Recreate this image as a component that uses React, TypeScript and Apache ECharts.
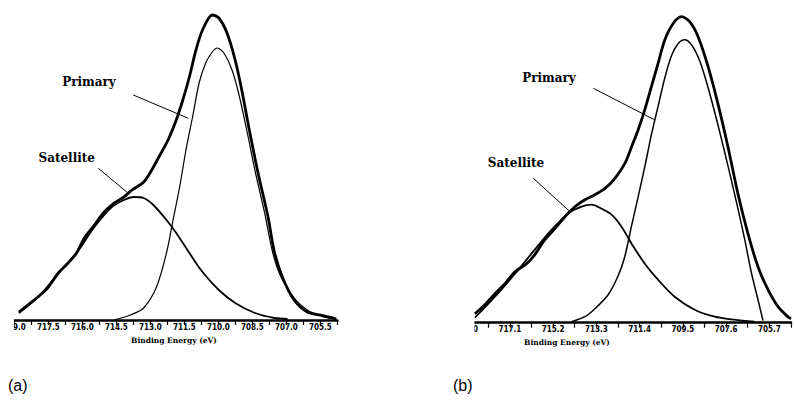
import { useEffect, useRef } from "react";
import * as echarts from "echarts";

// Binding energy (eV) vs. intensity, panel (a)
const panelAMeasured: [number, number][] = [
  [718.8, 8], [717.86, 25], [717.5, 33], [717.06, 47], [716.63, 57], [716.26, 67],
  [715.91, 82], [715.47, 95], [715.04, 108], [714.6, 117], [714.17, 123], [713.81, 130],
  [713.29, 138], [712.94, 150], [712.58, 165], [712.22, 180], [711.86, 200], [711.57, 220],
  [711.28, 243], [710.99, 270], [710.7, 290], [710.27, 305], [709.98, 302], [709.62, 287],
  [709.26, 260], [708.97, 230], [708.61, 187], [708.25, 147], [707.81, 103], [707.53, 68],
  [707.16, 42], [706.66, 20], [706.08, 8], [705.5, 5], [704.93, 2], [704.8, 1],
];
const panelAPrimary: [number, number][] = [
  [714.6, 0], [713.88, 5], [713.3, 12], [712.73, 33], [712.29, 67], [712.0, 100],
  [711.71, 133], [711.43, 170], [711.14, 203], [710.85, 237], [710.56, 257], [710.27, 268],
  [710.05, 272], [709.76, 267], [709.4, 250], [709.11, 227], [708.75, 190], [708.39, 150],
  [707.96, 107], [707.6, 67], [707.24, 43], [706.66, 22], [706.08, 10], [705.5, 4], [704.94, 1],
];
const panelASatellite: [number, number][] = [
  [718.8, 7], [717.86, 25], [717.06, 47], [716.26, 67], [715.47, 93], [714.75, 112],
  [714.17, 120], [713.74, 123], [713.3, 122], [712.87, 115], [712.29, 100], [711.86, 87],
  [711.28, 67], [710.7, 48], [709.98, 30], [709.26, 17], [708.39, 7], [707.53, 2], [706.95, 1],
];

// Panel (b)
const panelBMeasured: [number, number][] = [
  [718.63, 9], [718.19, 18], [717.75, 29], [717.31, 39], [716.87, 51], [716.36, 59],
  [716.0, 68], [715.56, 83], [715.12, 94], [714.68, 106], [714.24, 116], [713.8, 123],
  [713.36, 128], [712.93, 134], [712.49, 144], [712.05, 159], [711.75, 176], [711.46, 193],
  [711.17, 213], [710.88, 236], [710.59, 259], [710.29, 283], [709.93, 299], [709.56, 306],
  [709.2, 301], [708.83, 286], [708.39, 256], [707.96, 219], [707.52, 176], [707.08, 129],
  [706.64, 89], [706.2, 56], [705.76, 33], [705.32, 16], [704.89, 6], [704.75, 4],
];
const panelBPrimary: [number, number][] = [
  [714.39, 1], [713.8, 6], [713.36, 14], [712.78, 28], [712.34, 47], [712.05, 66],
  [711.75, 97], [711.46, 126], [711.17, 156], [710.88, 188], [710.59, 216], [710.29, 245],
  [710.0, 267], [709.71, 279], [709.42, 283], [709.12, 278], [708.76, 262], [708.39, 235],
  [707.96, 198], [707.52, 157], [707.08, 114], [706.79, 84], [706.49, 50], [706.2, 23], [705.98, 2],
];
const panelBSatellite: [number, number][] = [
  [718.63, 5], [717.75, 26], [716.87, 49], [716.0, 73], [715.26, 93], [714.54, 109],
  [713.95, 116], [713.51, 118], [713.07, 114], [712.63, 108], [712.19, 96], [711.75, 79],
  [711.17, 59], [710.59, 43], [709.86, 26], [708.98, 13], [708.1, 6], [707.24, 3], [706.35, 1],
];

const tickLabelsA = ["705.5", "707.0", "708.5", "710.0", "711.5", "713.0", "714.5", "716.0", "717.5", "719.0"];
const tickLabelsB = ["705.7", "707.6", "709.5", "711.4", "713.3", "715.2", "717.1", "719.0"];

const axisTitle = "Binding Energy (eV)";

const tickFont = '"Liberation Sans Narrow", "DejaVu Sans Condensed", sans-serif';
const serifFont = '"DejaVu Serif", "Liberation Serif", serif';

function energyAxis(gridIndex: number, step: number, labels: string[]) {
  return {
    type: "value" as const,
    gridIndex,
    min: 704.75,
    max: 719.0,
    interval: step,
    inverse: true,
    axisLine: { show: true, lineStyle: { color: "#000", width: 2.5 } },
    axisTick: { show: true, length: 5, lineStyle: { color: "#000", width: 1.2 } },
    splitLine: { show: false },
    axisLabel: {
      show: true,
      showMinLabel: true,
      showMaxLabel: true,
      margin: 3,
      color: "#000",
      fontFamily: tickFont,
      fontWeight: "bold" as const,
      fontSize: 8,
      formatter: (v: number) => {
        const s = v.toFixed(1);
        return labels.includes(s) ? s : "";
      },
    },
  };
}

function intensityAxis(gridIndex: number) {
  return { type: "value" as const, gridIndex, min: 0, max: 320, show: false };
}

function curve(idx: number, name: string, data: [number, number][], width: number) {
  return {
    type: "line" as const,
    name,
    xAxisIndex: idx,
    yAxisIndex: idx,
    data,
    showSymbol: false,
    smooth: 0.3,
    lineStyle: { color: "#000", width },
    z: 3,
  };
}

function label(text: string, x: number, y: number) {
  return {
    type: "text" as const,
    x,
    y,
    style: {
      text,
      fill: "#000",
      fontFamily: serifFont,
      fontWeight: "bold" as const,
      fontSize: 12,
      align: "center" as const,
      verticalAlign: "middle" as const,
    },
  };
}

function leader(x1: number, y1: number, x2: number, y2: number) {
  return {
    type: "line" as const,
    shape: { x1, y1, x2, y2 },
    style: { stroke: "#000", lineWidth: 1 },
  };
}

function caption(text: string, x: number, y: number, size: number, family: string, weight: string, align: string) {
  return {
    type: "text" as const,
    x,
    y,
    style: { text, fill: "#000", fontFamily: family, fontWeight: weight, fontSize: size, align, verticalAlign: "middle" },
  };
}

export default function App() {
  const ref = useRef<HTMLDivElement>(null);

  useEffect(() => {
    if (!ref.current) return;
    const chart = echarts.init(ref.current, undefined, { renderer: "svg" });
    chart.setOption({
      animation: false,
      backgroundColor: "#fff",
      grid: [
        { left: 8.6, top: 0, width: 328.8, height: 320 },
        { left: 466.5, top: 2.7, width: 324.9, height: 320 },
      ],
      xAxis: [energyAxis(0, 0.75, tickLabelsA), energyAxis(1, 0.95, tickLabelsB)],
      yAxis: [intensityAxis(0), intensityAxis(1)],
      series: [
        curve(0, "Measured", panelAMeasured, 2.8),
        curve(0, "Primary", panelAPrimary, 1.2),
        curve(0, "Satellite", panelASatellite, 1.8),
        curve(1, "Measured", panelBMeasured, 2.8),
        curve(1, "Primary", panelBPrimary, 1.5),
        curve(1, "Satellite", panelBSatellite, 1.8),
      ],
      graphic: [
        // trim the partially printed leftmost tick labels
        { type: "rect", shape: { x: 0, y: 317, width: 14, height: 20 }, style: { fill: "#fff" }, z: 100 },
        { type: "rect", shape: { x: 455, y: 318, width: 19.5, height: 20 }, style: { fill: "#fff" }, z: 100 },
        label("Primary", 89, 82),
        leader(133.3, 95, 188.3, 118.3),
        label("Satellite", 66.7, 158),
        leader(98.3, 168.3, 128.3, 193.3),
        label("Primary", 549, 78),
        leader(593.3, 88.3, 655, 120),
        label("Satellite", 516, 163),
        leader(533.3, 178.3, 570, 211.7),
        caption(axisTitle, 174, 340, 7.5, serifFont, "bold", "center"),
        caption(axisTitle, 567, 342, 7.5, serifFont, "bold", "center"),
        caption("(a)", 8, 385, 16, '"Liberation Sans", Arial, sans-serif', "normal", "left"),
        caption("(b)", 453, 385, 16, '"Liberation Sans", Arial, sans-serif', "normal", "left"),
      ],
    });
    return () => chart.dispose();
  }, []);

  return (
    <div
      ref={ref}
      style={{ position: "absolute", left: 0, top: 0, width: 794, height: 408 }}
    />
  );
}
